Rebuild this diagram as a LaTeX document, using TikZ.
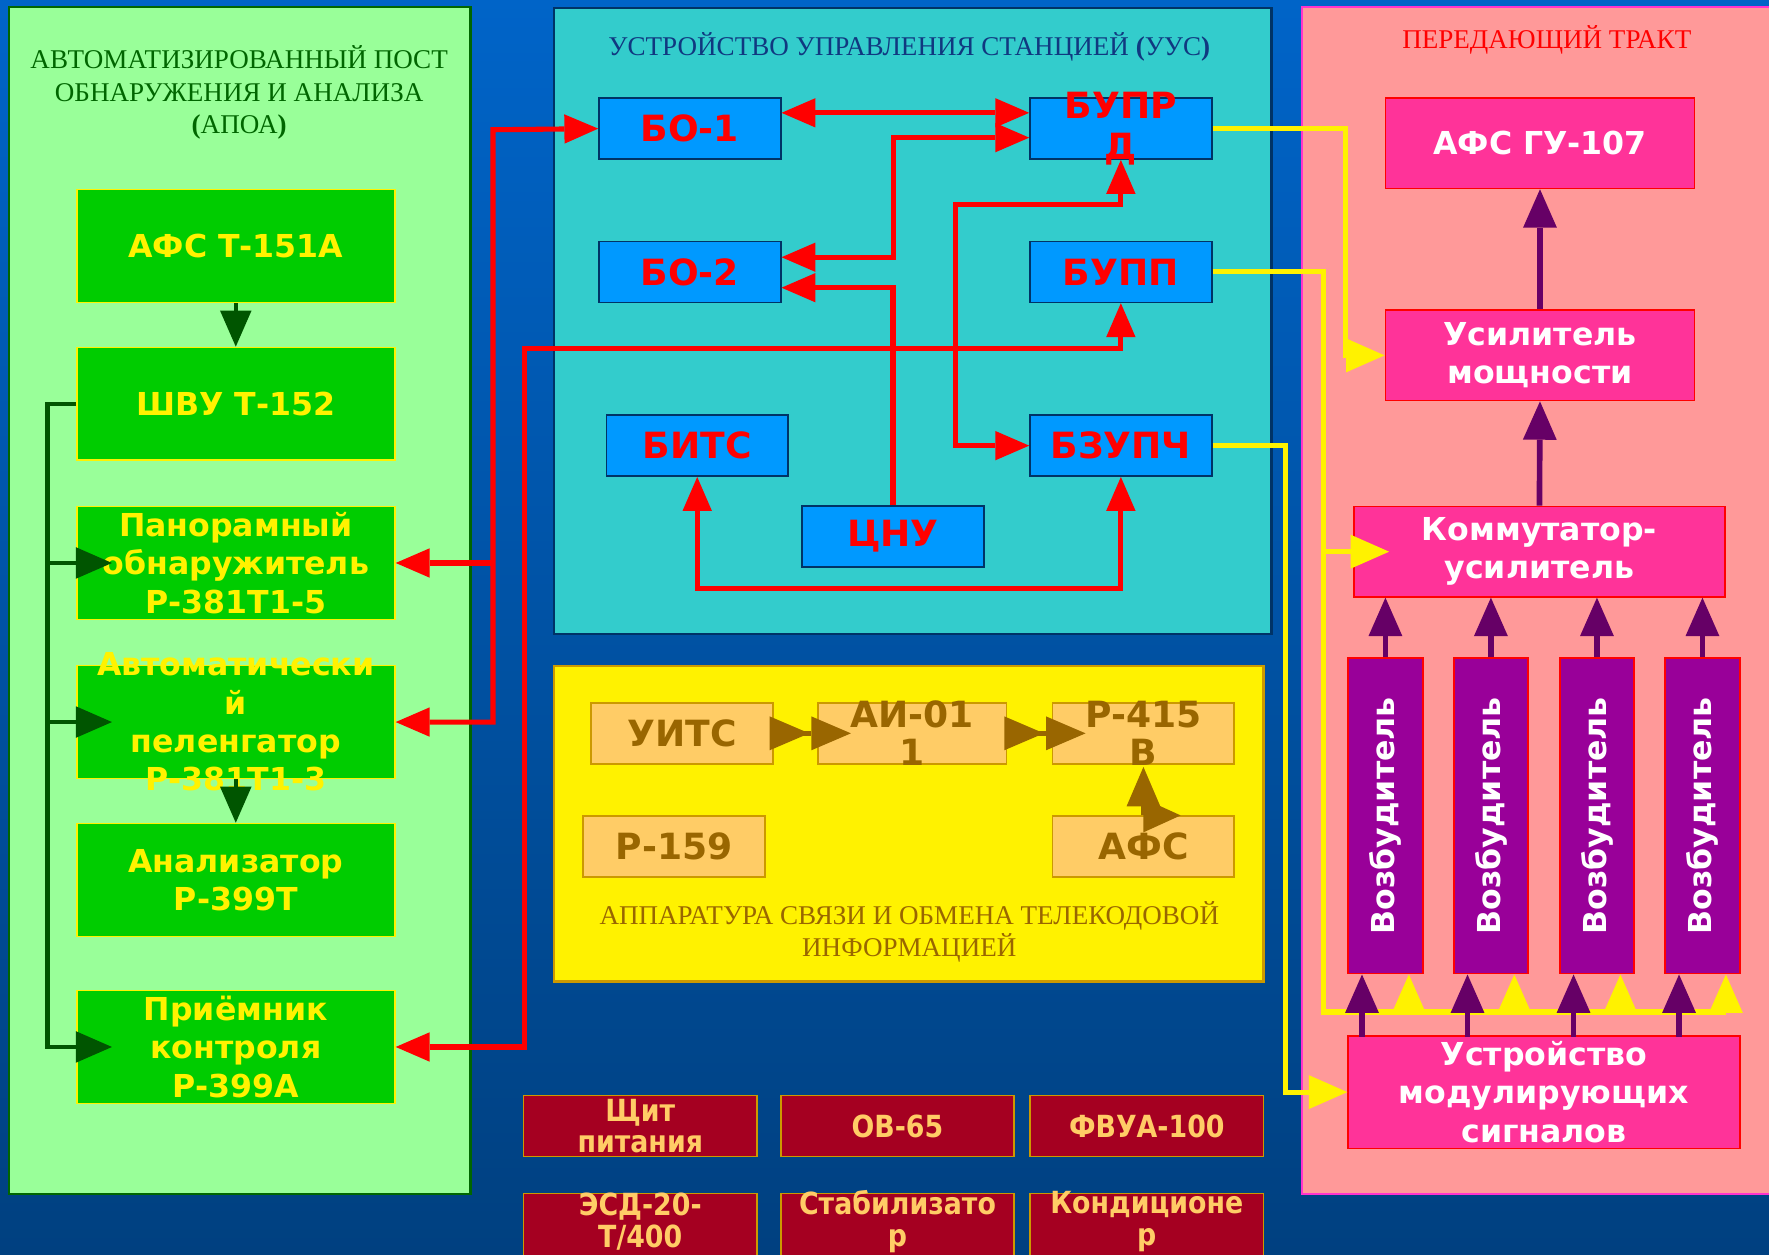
\documentclass[tikz,border=0pt]{standalone}
\usepackage{fontspec}
\setmainfont{Liberation Serif}
\newfontfamily\boxfont{DejaVu Sans}
\newfontfamily\narrowfont[FakeStretch=0.88]{DejaVu Sans}
\usetikzlibrary{arrows.meta}
\usetikzlibrary{calc}

\definecolor{bgtop}{RGB}{0,100,200}
\definecolor{bgbot}{RGB}{0,64,128}
\definecolor{apoafill}{RGB}{153,255,153}
\definecolor{apoadark}{RGB}{0,102,0}
\definecolor{grnbox}{RGB}{0,204,0}
\definecolor{grnarrow}{RGB}{0,85,0}
\definecolor{uusfill}{RGB}{51,204,204}
\definecolor{uusline}{RGB}{0,51,102}
\definecolor{uustitle}{RGB}{16,56,128}
\definecolor{bluebox}{RGB}{0,153,255}
\definecolor{sviazline}{RGB}{204,153,0}
\definecolor{orbox}{RGB}{255,204,102}
\definecolor{brn}{RGB}{153,102,0}
\definecolor{tractfill}{RGB}{255,153,153}
\definecolor{tractline}{RGB}{255,51,204}
\definecolor{pinkbox}{RGB}{255,51,153}
\definecolor{vozbfill}{RGB}{153,0,153}
\definecolor{purp}{RGB}{102,0,102}
\definecolor{pwrfill}{RGB}{165,0,33}
\definecolor{pwrtext}{RGB}{255,204,102}

\tikzset{
  ttl/.style={align=center, inner sep=0pt, font=\fontsize{24}{29}\selectfont},
  gtxt/.style={text=yellow, align=center, inner sep=0pt, font=\boxfont\bfseries\fontsize{28}{34}\selectfont},
  gbox/.style={gtxt, draw=yellow, line width=1.5pt, fill=grnbox, minimum width=282pt, minimum height=100pt},
  rtxt/.style={text=red, align=center, inner sep=0pt, font=\boxfont\bfseries\fontsize{32}{37}\selectfont},
  bbox/.style={rtxt, draw=uusline, line width=1.5pt, fill=bluebox, minimum width=161pt, minimum height=54pt},
  otxt/.style={text=brn, align=center, inner sep=0pt, font=\boxfont\bfseries\fontsize{32}{34}\selectfont},
  obox/.style={otxt, draw=sviazline, line width=1.5pt, fill=orbox, minimum width=161pt, minimum height=54pt},
  wtxt/.style={text=white, align=center, inner sep=0pt, font=\boxfont\bfseries\fontsize{28}{34}\selectfont},
  pbox/.style={wtxt, draw=red, line width=1.5pt, fill=pinkbox, minimum width=274pt, minimum height=80pt},
  vbox/.style={wtxt, draw=red, line width=1.5pt, fill=vozbfill, minimum width=66pt, minimum height=280pt},
  ntxt/.style={text=pwrtext, align=center, inner sep=0pt, font=\narrowfont\bfseries\fontsize{27}{28}\selectfont},
  nbox/.style={draw=sviazline, line width=1.5pt, fill=pwrfill, minimum width=207pt, minimum height=54pt, inner sep=0pt},
  gline/.style={draw=grnarrow, line width=4pt, >={Triangle[length=32pt, width=28pt, line width=0pt]}},
  redline/.style={draw=red, line width=4.5pt, >={Triangle[length=30pt, width=26pt, line width=0pt]}},
  yline/.style={draw=yellow, line width=4.5pt, >={Triangle[length=34pt, width=30pt, line width=0pt]}},
  pline/.style={draw=purp, line width=5pt, >={Triangle[length=34pt, width=30pt, line width=0pt]}},
  brline/.style={draw=brn, line width=5pt, >={Triangle[length=35pt, width=30pt, line width=0pt, sep=2pt]}}
}

\begin{document}
\begin{tikzpicture}[x=1pt, y=-1pt]
    \useasboundingbox (0,0) rectangle (1568,1112);
    \shade[top color=bgtop, bottom color=bgbot] (0,0) rectangle (1568,1112);
    \clip (0,0) rectangle (1568,1112);

    \filldraw[fill=apoafill, draw=apoadark, line width=2pt] (8,6) rectangle (417,1058);
    \filldraw[fill=uusfill, draw=uusline, line width=2pt] (491,7) rectangle (1127,562);
    \filldraw[fill=yellow, draw=sviazline, line width=2pt] (491,590) rectangle (1120,870);
    \filldraw[fill=tractfill, draw=tractline, line width=2pt] (1154,6) rectangle (1590,1058);

    \node[ttl, text=apoadark] (tapoa) at (212,82) {АВТОМАТИЗИРОВАННЫЙ ПОСТ\\ОБНАРУЖЕНИЯ И АНАЛИЗА\\\textbf{(}АПОА\textbf{)}};
    \node[ttl, text=uustitle] (tuus) at (806,42) {УСТРОЙСТВО УПРАВЛЕНИЯ СТАНЦИЕЙ \textbf{(}УУС\textbf{)}};
    \node[ttl, text=red] (ttract) at (1371,35) {ПЕРЕДАЮЩИЙ ТРАКТ};
    \node[ttl, text=brn] (tsviaz) at (806,826) {АППАРАТУРА СВЯЗИ И ОБМЕНА ТЕЛЕКОДОВОЙ\\ИНФОРМАЦИЕЙ};

    \node[gbox] (afs151) at (209,218) {АФС Т-151А};
    \node[gbox] (shvu) at (209,358) {ШВУ Т-152};
    \node[gbox] (pan) at (209,499) {Панорамный\\обнаружитель\\Р-381Т1-5};
    \node[gbox, label={[gtxt]center:{Автоматически\\й\\пеленгатор\\Р-381Т1-3}}] (pel) at (209,640) {};
    \node[gbox] (anl) at (209,780) {Анализатор\\Р-399Т};
    \node[gbox] (prm) at (209,928) {Приёмник\\контроля\\Р-399А};

    \node[bbox] (bo1) at (611.5,114) {БО-1};
    \node[bbox] (bo2) at (611.5,241) {БО-2};
    \node[bbox, label={[rtxt]center:{БУПР\\Д}}] (bupr) at (993.5,114) {};
    \node[bbox] (bupp) at (993.5,241) {БУПП};
    \node[bbox] (bits) at (618,395) {БИТС};
    \node[bbox] (bzupch) at (993.5,395) {БЗУПЧ};
    \node[bbox] (cnu) at (791.5,475.5) {ЦНУ};

    \node[obox] (uits) at (604.5,650) {УИТС};
    \node[obox, minimum width=167pt, label={[otxt]center:{АИ-01\\1}}] (ai) at (808.5,650) {};
    \node[obox, label={[otxt]center:{Р-415\\В}}] (r415) at (1013.5,650) {};
    \node[obox] (r159) at (597.5,750.5) {Р-159};
    \node[obox] (afs) at (1013.5,750.5) {АФС};

    \node[pbox] (afsgu) at (1365,127) {АФС ГУ-107};
    \node[pbox] (usil) at (1365,315) {Усилитель\\мощности};
    \node[pbox, minimum width=329pt] (komm) at (1364.5,489) {Коммутатор-\\усилитель};
    \node[vbox] (v1) at (1228,723) {\rotatebox{90}{Возбудитель}};
    \node[vbox] (v2) at (1321.5,723) {\rotatebox{90}{Возбудитель}};
    \node[vbox] (v3) at (1415.5,723) {\rotatebox{90}{Возбудитель}};
    \node[vbox] (v4) at (1509,723) {\rotatebox{90}{Возбудитель}};
    \node[pbox, minimum width=347pt, minimum height=100pt] (ustr) at (1368.5,968) {Устройство\\модулирующих\\сигналов};

    \node[nbox, label={[ntxt]center:{Щит\\питания}}] (shchit) at (567.5,998) {};
    \node[nbox, label={[ntxt]center:{ОВ-65}}] (ov) at (795.5,998) {};
    \node[nbox, label={[ntxt]center:{ФВУА-100}}] (fvua) at (1016.5,998) {};
    \node[nbox, minimum height=60pt, label={[ntxt, yshift=5pt]center:{ЭСД-20-\\Т/400}}] (esd) at (567.5,1088) {};
    \node[nbox, minimum height=60pt, label={[ntxt, yshift=5pt]center:{Стабилизато\\р}}] (stab) at (795.5,1088) {};
    \node[nbox, minimum height=60pt, label={[ntxt, yshift=5pt]center:{Кондиционе\\р}}] (kond) at (1016.5,1088) {};

    \coordinate (gb) at (42,0);
    \draw[gline, ->] (afs151.south) -- (shvu.north);
    \draw[gline, ->] (pel.south) -- (anl.north);
    \draw[gline, ->] (shvu.west) -- (shvu.west -| gb) |- ([xshift=32pt]prm.west);
    \draw[gline, ->] (pan.west -| gb) -- ([xshift=32pt]pan.west);
    \draw[gline, ->] (pel.west -| gb) -- ([xshift=32pt]pel.west);

    \coordinate (ra) at (437,115);
    \coordinate (rb) at (465,309);
    \coordinate (rc) at (792,180);
    \coordinate (rd) at (847,181);
    \draw[redline, <->] (pel.east) -- (pel.east -| ra) -- (ra) -- (bo1.west);
    \draw[redline, ->] (pan.east -| ra) -- (pan.east);
    \draw[redline, <->] (prm.east) -- (prm.east -| rb) -- (rb) -| (bupp.south);
    \draw[redline, <->] ([yshift=14pt]bo1.east) -- ([yshift=14pt]bupr.west);
    \draw[redline, <->] ([yshift=13pt]bo2.east) -| (rc) |- ([yshift=-8pt]bupr.west);
    \draw[redline, ->] (cnu.north) |- ([yshift=-14pt]bo2.east);
    \draw[redline, <->] (bupr.south) |- (rd) |- (bzupch.west);
    \draw[redline, <->] (bits.south) -- ++(0,99) -| (bzupch.south);

    \draw[brline, ->>] (uits.east) -- ([xshift=32pt]ai.west);
    \draw[brline, ->>] (ai.east) -- ([xshift=32pt]r415.west);
    \draw[brline, ->] (afs.north) -- (r415.south);
    \fill[brn] ([yshift=15pt]afs.north) -- ++(33,15) -- ++(-33,15) -- cycle;

    \coordinate (yb) at (1173,897);
    \coordinate (ye) at (1530,897);
    \draw[yline, ->] (bupr.east) -| ([xshift=-35pt]usil.west) -- (usil.west);
    \draw[yline] (bupp.east) -| (yb) -- (ye);
    \draw[yline, ->] (yb |- komm.west) -- ([xshift=32pt]komm.west);
    \draw[yline, ->] (bzupch.east) -| ([xshift=-55pt]ustr.west) -- (ustr.west);
    \draw[yline, <-] ([xshift=-13pt]v1.south east) -- ++(0,34);
    \draw[yline, <-] ([xshift=-13pt]v2.south east) -- ++(0,34);
    \draw[yline, <-] ([xshift=-13pt]v3.south east) -- ++(0,34);
    \draw[yline, <-] ([xshift=-13pt]v4.south east) -- ++(0,34);

    \draw[pline, ->] (usil.north) -- (afsgu.south);
    \draw[pline, ->] (komm.north) -- (usil.south);
    \draw[pline, ->] (v1.north) -- (v1.north |- komm.south);
    \draw[pline, ->] (v2.north) -- (v2.north |- komm.south);
    \draw[pline, ->] (v3.north) -- (v3.north |- komm.south);
    \draw[pline, ->] (v4.north) -- (v4.north |- komm.south);
    \draw[pline, <-] ([xshift=13pt]v1.south west) -- ++(0,55);
    \draw[pline, <-] ([xshift=13pt]v2.south west) -- ++(0,55);
    \draw[pline, <-] ([xshift=13pt]v3.south west) -- ++(0,55);
    \draw[pline, <-] ([xshift=13pt]v4.south west) -- ++(0,55);
\end{tikzpicture}
\end{document}
